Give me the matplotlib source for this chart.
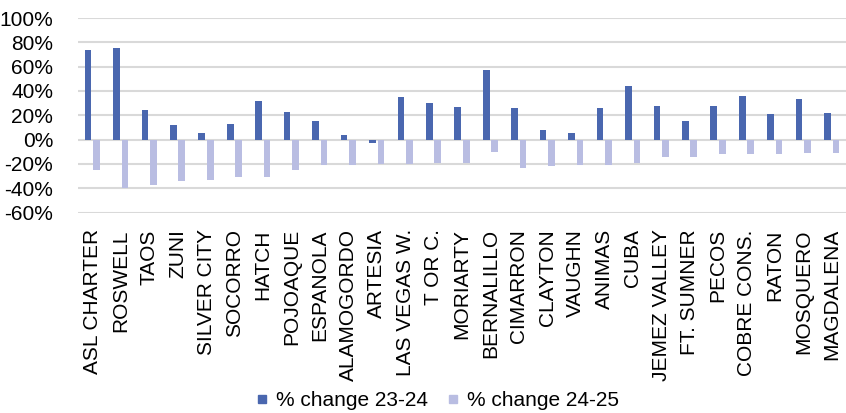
import matplotlib.pyplot as plt
import numpy as np
from matplotlib.lines import Line2D
from matplotlib.ticker import FuncFormatter

plt.rcParams['font.family'] = ['Liberation Sans', 'DejaVu Sans']

districts = ['ASL CHARTER', 'ROSWELL', 'TAOS', 'ZUNI', 'SILVER CITY', 'SOCORRO',
             'HATCH', 'POJOAQUE', 'ESPANOLA', 'ALAMOGORDO', 'ARTESIA', 'LAS VEGAS W.',
             'T OR C.', 'MORIARTY', 'BERNALILLO', 'CIMARRON', 'CLAYTON', 'VAUGHN',
             'ANIMAS', 'CUBA', 'JEMEZ VALLEY', 'FT. SUMNER', 'PECOS', 'COBRE CONS.',
             'RATON', 'MOSQUERO', 'MAGDALENA']

# percent change by school year
chg_23_24 = [74, 75, 24, 12, 5, 13, 32, 23, 15, 4, -3, 35,
             30, 27, 57, 26, 8, 5, 26, 44, 28, 15, 28, 36,
             21, 33, 22]
chg_24_25 = [-25, -40, -37, -34, -33, -31, -31, -25, -21, -21, -20, -20,
             -19, -19, -10, -23, -22, -21, -21, -19, -14, -14, -12, -12,
             -12, -11, -11]

c1, c2 = '#4A67AF', '#B9BDE2'

fig = plt.figure(figsize=(8.46, 4.13), dpi=100)
ax = fig.add_axes([78 / 846, 1 - 212.5 / 413, 768 / 846, (212.5 - 18) / 413])

x = np.arange(len(districts))
w = 0.235
ax.bar(x - 0.148, chg_23_24, w, color=c1, zorder=3)
ax.bar(x + 0.148, chg_24_25, w, color=c2, zorder=3)

ax.set_xlim(-0.5, len(districts) - 0.5)
ax.set_ylim(-60, 100)
ax.set_yticks(range(-60, 101, 20))
ax.yaxis.set_major_formatter(FuncFormatter(lambda v, p: f'{v:.0f}%'))
ax.grid(axis='y', color='#D9D9D9', linewidth=1.5, zorder=0)
ax.set_axisbelow(True)
for s in ax.spines.values():
    s.set_visible(False)

ax.set_xticks(x)
ax.set_xticklabels(districts, rotation=90, fontsize=15)
ax.tick_params(axis='x', length=0, pad=12)
ax.tick_params(axis='y', length=0, pad=18, labelsize=15)

# small square keys like the spreadsheet legend
keys = [Line2D([], [], marker='s', linestyle='none', markersize=5.2, color=c) for c in (c1, c2)]
fig.legend(keys, ['% change 23-24', '% change 24-25'], loc='center',
           bbox_to_anchor=(0.518, 1 - 400 / 413), ncol=2, frameon=False,
           fontsize=15, handlelength=0.45, handleheight=0.3, handletextpad=0.45,
           columnspacing=1.0)

fig.savefig('out.png', dpi=100)
